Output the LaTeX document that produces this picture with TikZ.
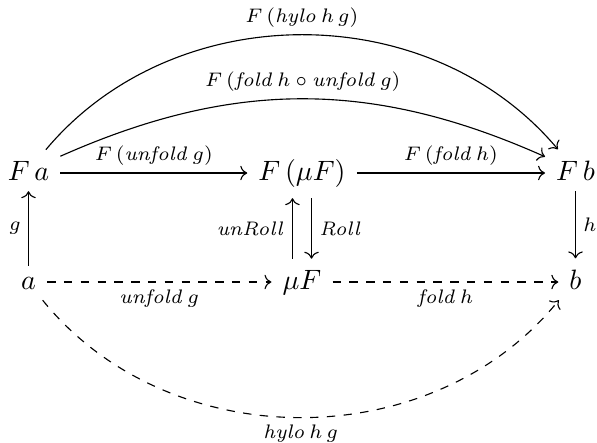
\documentclass[tikz,border=0pt]{standalone}
\usetikzlibrary{arrows.meta}
\begin{document}
\begin{tikzpicture}[x=0.35714pt,y=-0.35714pt,
  cell/.style={inner sep=3.8pt, anchor=base},
  arr/.style={-{Computer Modern Rightarrow}, line width=0.4pt},
  lab/.style={inner sep=2.6pt, font=\scriptsize}]
\useasboundingbox (0,0) rectangle (597,442);
% objects
\node[cell] (Fa)   at (28.5,180) {$F\,a$};
\node[cell] (FmuF) at (302,180) {$F\,(\mu F)$};
\node[cell] (Fb)   at (575.5,180) {$F\,b$};
\node[cell] (a)    at (28.5,289) {$a$};
\node[cell] (muF)  at (302,289) {$\mu F$};
\node[cell] (b)    at (575.5,289) {$b$};
% horizontal arrows (on the math axis)
\draw[arr] ([yshift=2.5pt]Fa.base east) -- node[lab,above] {$F\,(\mathit{unfold}\,g)$} ([yshift=2.5pt]FmuF.base west);
\draw[arr] ([yshift=2.5pt]FmuF.base east) -- node[lab,above] {$F\,(\mathit{fold}\,h)$} ([yshift=2.5pt]Fb.base west);
\draw[arr,dashed] ([yshift=2.5pt]a.base east) -- node[lab,below] {$\mathit{unfold}\,g$} ([yshift=2.5pt]muF.base west);
\draw[arr,dashed] ([yshift=2.5pt]muF.base east) -- node[lab,below] {$\mathit{fold}\,h$} ([yshift=2.5pt]b.base west);
% vertical arrows
\draw[arr] (a) -- node[lab,left] {$g$} (Fa);
\draw[arr] (Fb) -- node[lab,right] {$h$} (b);
\draw[arr] ([xshift=-3.4pt]muF.north) -- node[lab,left] {$\mathit{unRoll}$} ([xshift=-3.4pt]FmuF.south);
\draw[arr] ([xshift=3.4pt]FmuF.south) -- node[lab,right] {$\mathit{Roll}$} ([xshift=3.4pt]muF.north);
% curved arrows
\draw[arr] (Fa) to[bend left=50] node[lab,above] {$F\,(\mathit{hylo}\,h\,g)$} (Fb);
\draw[arr] (Fa) to[bend left=24] node[lab,above] {$F\,(\mathit{fold}\,h\circ\mathit{unfold}\,g)$} (Fb);
\draw[arr,dashed] (a) to[bend right=51] node[lab,below] {$\mathit{hylo}\,h\,g$} (b);
\end{tikzpicture}
\end{document}
